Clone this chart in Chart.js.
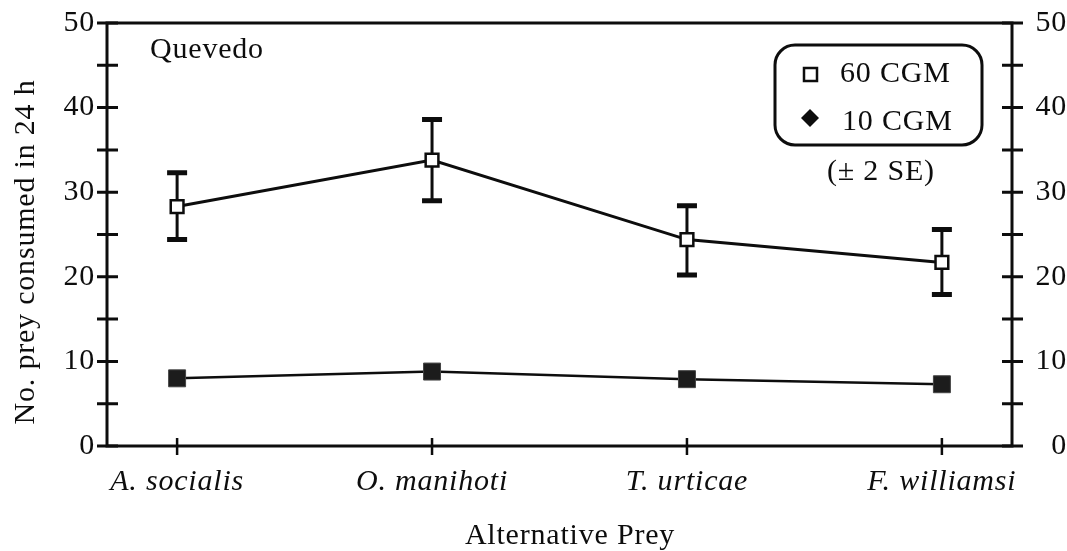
<!DOCTYPE html>
<html>
<head>
<meta charset="utf-8">
<script src="https://cdn.jsdelivr.net/npm/chart.js@4.4.1/dist/chart.umd.min.js"></script>
<style>
  html, body { margin: 0; padding: 0; background: #ffffff; }
  #wrap { width: 1067px; height: 551px; position: relative; }
</style>
</head>
<body>
<div id="wrap"><canvas id="c" width="1067" height="551"></canvas></div>
<script>
// ---- data ----
const categories = ['A. socialis', 'O. manihoti', 'T. urticae', 'F. williamsi'];
const mean60  = [28.3, 33.8, 24.4, 21.7];
const upper60 = [32.3, 38.6, 28.4, 25.6];
const lower60 = [24.4, 29.0, 20.2, 17.9];
const mean10  = [8.0, 8.8, 7.9, 7.3];
const yMajorTicks = [0, 10, 20, 30, 40, 50];
const yMinorTicks = [5, 15, 25, 35, 45];
const seriesNames = ['60 CGM', '10 CGM'];
const panelLabel = 'Quevedo';
const seNote = '(\u00b1 2 SE)';
const yTitle = 'No. prey consumed in 24 h';
const xTitle = 'Alternative Prey';

const FONT = "'Liberation Serif', 'Times New Roman', serif";
const SPACING = '0.8px';
const FS = 30;
const INK = '#0d0d0d';

const toXY = arr => arr.map((v, i) => ({ x: i, y: v }));

const spacingPlugin = {
  id: 'spacing',
  beforeLayout(chart) { chart.ctx.letterSpacing = SPACING; },
  beforeDraw(chart) { chart.ctx.letterSpacing = SPACING; }
};

const errorBarPlugin = {
  id: 'errorBars',
  beforeDatasetsDraw(chart) {
    const ctx = chart.ctx, xs = chart.scales.x, ys = chart.scales.y;
    ctx.save();
    ctx.strokeStyle = INK;
    ctx.lineCap = 'butt';
    for (let i = 0; i < mean60.length; i++) {
      const px = xs.getPixelForValue(i);
      const pt = ys.getPixelForValue(upper60[i]);
      const pb = ys.getPixelForValue(lower60[i]);
      ctx.lineWidth = 3;
      ctx.beginPath(); ctx.moveTo(px, pt); ctx.lineTo(px, pb); ctx.stroke();
      ctx.lineWidth = 5;
      ctx.beginPath();
      ctx.moveTo(px - 10, pt); ctx.lineTo(px + 10, pt);
      ctx.moveTo(px - 10, pb); ctx.lineTo(px + 10, pb);
      ctx.stroke();
    }
    ctx.restore();
  }
};

const axesPlugin = {
  id: 'axesDraw',
  afterDatasetsDraw(chart) {
    const ctx = chart.ctx, a = chart.chartArea;
    const xs = chart.scales.x, ys = chart.scales.y, yr = chart.scales.y2;
    ctx.save();
    ctx.strokeStyle = INK;
    ctx.lineWidth = 3;
    ctx.lineCap = 'square';
    ctx.beginPath();
    ctx.moveTo(a.left, a.bottom); ctx.lineTo(a.left, a.top);
    ctx.lineTo(a.right, a.top); ctx.lineTo(a.right, a.bottom);
    ctx.lineTo(a.left, a.bottom);
    ctx.stroke();
    ctx.lineCap = 'butt';
    const allY = yMajorTicks.concat(yMinorTicks);
    ctx.beginPath();
    allY.forEach(v => {
      const py = ys.getPixelForValue(v);
      ctx.moveTo(a.left - 10, py); ctx.lineTo(a.left + 11, py);
      const pr = yr.getPixelForValue(v);
      ctx.moveTo(a.right - 10, pr); ctx.lineTo(a.right + 11, pr);
    });
    ctx.stroke();
    ctx.lineWidth = 2.5;
    ctx.beginPath();
    categories.forEach((c, i) => {
      const px = xs.getPixelForValue(i);
      ctx.moveTo(px, a.bottom - 8); ctx.lineTo(px, a.bottom + 9);
    });
    ctx.stroke();
    ctx.restore();
  },
  afterDraw(chart) {
    const ctx = chart.ctx;
    ctx.save();
    ctx.letterSpacing = SPACING;
    ctx.fillStyle = INK;
    ctx.strokeStyle = INK;
    ctx.font = FS + 'px ' + FONT;
    ctx.textBaseline = 'alphabetic';
    ctx.textAlign = 'left';
    ctx.fillText(panelLabel, 150, 58);
    ctx.lineWidth = 3;
    ctx.beginPath();
    ctx.roundRect(775, 45, 207, 100, 20);
    ctx.stroke();
    ctx.lineWidth = 2.5;
    ctx.fillStyle = '#ffffff';
    ctx.beginPath(); ctx.rect(804, 68, 13, 13); ctx.fill(); ctx.stroke();
    ctx.fillStyle = INK;
    ctx.beginPath();
    ctx.moveTo(810, 109); ctx.lineTo(819, 118); ctx.lineTo(810, 127); ctx.lineTo(801, 118);
    ctx.closePath(); ctx.fill();
    ctx.fillText(seriesNames[0], 840, 82);
    ctx.fillText(seriesNames[1], 842, 130);
    ctx.fillText(seNote, 827, 180);
    ctx.textAlign = 'center';
    ctx.fillText(xTitle, 570, 544);
    ctx.translate(34, 252);
    ctx.rotate(-Math.PI / 2);
    ctx.fillText(yTitle, 0, 0);
    ctx.restore();
  }
};

new Chart(document.getElementById('c'), {
  type: 'line',
  data: {
    datasets: [
      {
        label: seriesNames[0],
        data: toXY(mean60),
        borderColor: INK,
        borderWidth: 3,
        pointStyle: 'rect',
        pointRadius: 9,
        pointBorderWidth: 2.5,
        pointBackgroundColor: '#ffffff',
        pointBorderColor: INK,
        tension: 0,
        order: 1
      },
      {
        label: seriesNames[1],
        data: toXY(mean10),
        borderColor: INK,
        borderWidth: 2.5,
        pointStyle: 'rect',
        pointRadius: 12,
        pointBorderWidth: 1,
        pointBackgroundColor: '#1c1c1c',
        pointBorderColor: '#444444',
        tension: 0,
        order: 2
      }
    ]
  },
  options: {
    responsive: false,
    animation: false,
    devicePixelRatio: 1,
    layout: { padding: { top: 23, left: 0, right: 0, bottom: 0 } },
    plugins: { legend: { display: false }, tooltip: { enabled: false }, title: { display: false } },
    scales: {
      x: {
        type: 'linear',
        min: -0.275,
        max: 3.275,
        grid: { display: false, drawTicks: false },
        border: { display: false },
        afterBuildTicks: s => { s.ticks = categories.map((c, i) => ({ value: i })); },
        afterFit: s => { s.height = 105; s.paddingLeft = 0; s.paddingRight = 0; },
        ticks: {
          autoSkip: false,
          maxRotation: 0,
          padding: 18,
          color: INK,
          font: { family: FONT, size: FS, style: 'italic' },
          callback: v => categories[v]
        }
      },
      y: {
        position: 'left',
        min: 0,
        max: 50,
        grid: { display: false, drawTicks: false },
        border: { display: false },
        afterBuildTicks: s => { s.ticks = yMajorTicks.map(v => ({ value: v })); },
        afterFit: s => { s.width = 107; s.paddingTop = 0; s.paddingBottom = 0; },
        ticks: { padding: 12, color: INK, font: { family: FONT, size: FS } }
      },
      y2: {
        position: 'right',
        min: 0,
        max: 50,
        grid: { display: false, drawTicks: false },
        border: { display: false },
        afterBuildTicks: s => { s.ticks = yMajorTicks.map(v => ({ value: v })); },
        afterFit: s => { s.width = 55; s.paddingTop = 0; s.paddingBottom = 0; },
        ticks: { padding: 15, crossAlign: 'far', color: INK, font: { family: FONT, size: FS } }
      }
    }
  },
  plugins: [spacingPlugin, errorBarPlugin, axesPlugin]
});
</script>
</body>
</html>
